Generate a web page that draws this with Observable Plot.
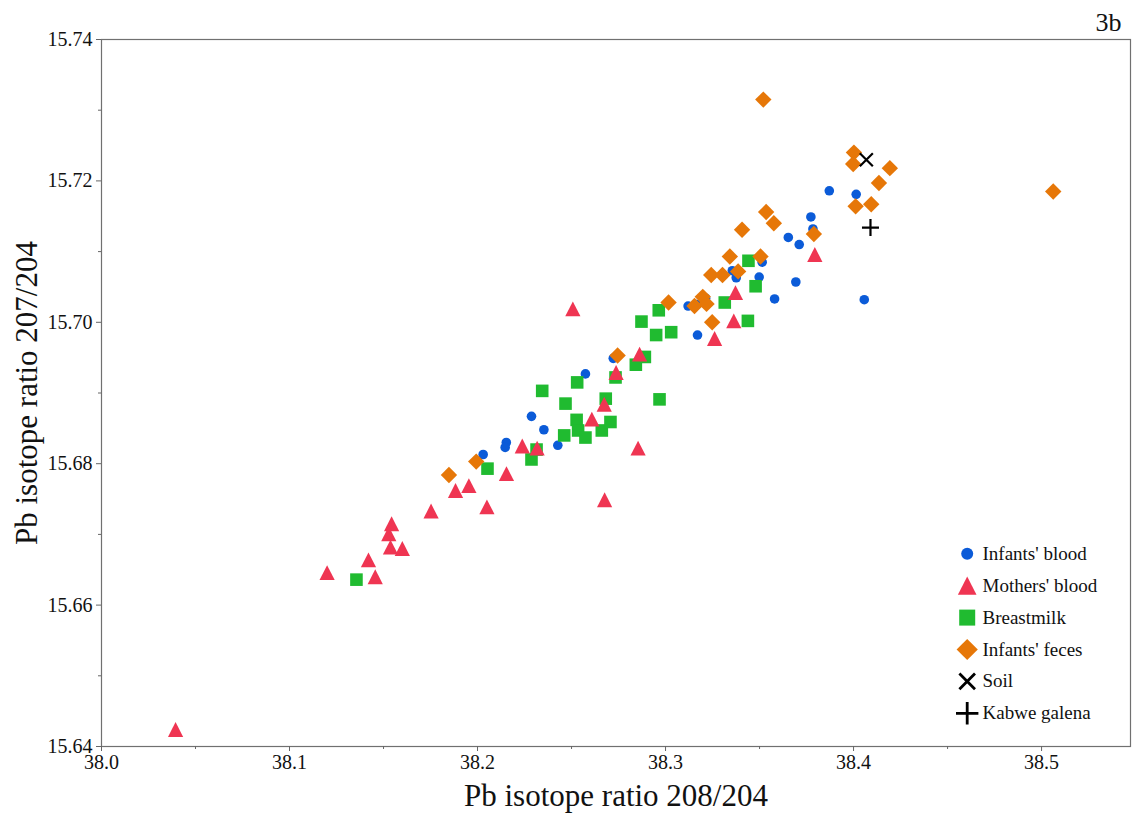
<!DOCTYPE html>
<html><head><meta charset="utf-8">
<script src="https://cdn.jsdelivr.net/npm/d3@7"></script>
<script src="https://cdn.jsdelivr.net/npm/@observablehq/plot@0.6"></script>
<style>
html,body{margin:0;padding:0;background:#fff;}
#chart{width:1134px;height:819px;}
#chart svg text{font-family:'Liberation Serif','Times New Roman',serif;}
</style>
</head><body><div id="chart"></div>
<script>
// ---- data: [Pb 208/204, Pb 207/204] ----
const infantsBlood = [
  [38.2030,15.6813],[38.2153,15.6830],[38.2147,15.6823],[38.2287,15.6867],[38.2353,15.6848],
  [38.2427,15.6826],[38.2574,15.6927],[38.2722,15.6949],[38.3120,15.7023],[38.3165,15.7025],
  [38.3213,15.7034],[38.3170,15.6982],[38.3355,15.7073],[38.3376,15.7063],[38.3514,15.7085],
  [38.3498,15.7064],[38.3580,15.7033],[38.3693,15.7057],[38.3653,15.7120],[38.3711,15.7110],
  [38.3773,15.7149],[38.3784,15.7132],[38.3871,15.7186],[38.4014,15.7181],[38.4057,15.7032]
];
const mothersBlood = [
  [38.0394,15.6424],[38.1200,15.6646],[38.1420,15.6664],[38.1456,15.6640],[38.1543,15.6715],
  [38.1528,15.6701],[38.1537,15.6682],[38.1600,15.6680],[38.1753,15.6733],[38.1883,15.6762],
  [38.1954,15.6769],[38.2050,15.6739],[38.2154,15.6786],[38.2238,15.6825],[38.2317,15.6822],
  [38.2507,15.7019],[38.2608,15.6863],[38.2674,15.6884],[38.2676,15.6749],[38.2854,15.6822],
  [38.2737,15.6929],[38.2862,15.6955],[38.3261,15.6977],[38.3363,15.7002],[38.3372,15.7042],
  [38.3794,15.7096]
];
const breastmilk = [
  [38.1356,15.6636],[38.2053,15.6793],[38.2287,15.6806],[38.2314,15.6820],[38.2344,15.6903],
  [38.2530,15.6915],[38.2468,15.6885],[38.2527,15.6862],[38.2535,15.6847],[38.2574,15.6837],
  [38.2461,15.6840],[38.2661,15.6847],[38.2707,15.6859],[38.2682,15.6892],[38.2734,15.6922],
  [38.2842,15.6940],[38.2890,15.6951],[38.2872,15.7001],[38.2950,15.6982],[38.3030,15.6986],
  [38.2964,15.7017],[38.2968,15.6891],[38.3315,15.7028],[38.3441,15.7087],[38.3479,15.7051],
  [38.3438,15.7002]
];
const infantsFeces = [
  [38.1848,15.6784],[38.1993,15.6803],[38.2745,15.6953],[38.3016,15.7028],[38.3154,15.7023],
  [38.3198,15.7036],[38.3218,15.7026],[38.3248,15.7000],[38.3243,15.7067],[38.3303,15.7067],
  [38.3342,15.7093],[38.3386,15.7072],[38.3505,15.7093],[38.3407,15.7131],[38.3535,15.7156],
  [38.3576,15.7140],[38.3789,15.7125],[38.4011,15.7164],[38.4094,15.7167],[38.3520,15.7315],
  [38.4002,15.7240],[38.3998,15.7224],[38.4193,15.7218],[38.4135,15.7197],[38.5062,15.7185]
];
const soil = [[38.4068,15.7230]];
const kabweGalena = [[38.4090,15.7134]];

const seriesNames = ["Infants' blood","Mothers' blood","Breastmilk","Infants' feces","Soil","Kabwe galena"];
const xTicks = [38.0,38.1,38.2,38.3,38.4,38.5];
const xMinorTicks = [38.05,38.15,38.25,38.35,38.45];
const yTicks = [15.64,15.66,15.68,15.70,15.72,15.74];
const yMinorTicks = [15.65,15.67,15.69,15.71,15.73];
const xLabel = "Pb isotope ratio 208/204";
const yLabel = "Pb isotope ratio 207/204";
const panelLabel = "3b";

const FONT = "'Liberation Serif', 'Times New Roman', serif";

// ---- symbols (size -> radius R) ----
const RR = s => Math.sqrt(s/Math.PI);
const symCircle = {draw(c,s){const r=RR(s); c.moveTo(r,0); c.arc(0,0,r,0,2*Math.PI); c.closePath();}};
const symTriangle = {draw(c,s){const r=RR(s); c.moveTo(0,-0.98*r); c.lineTo(r,0.98*r); c.lineTo(-r,0.98*r); c.closePath();}};
const symSquare = {draw(c,s){const r=RR(s); c.moveTo(-r,-r); c.lineTo(r,-r); c.lineTo(r,r); c.lineTo(-r,r); c.closePath();}};
const symDiamond = {draw(c,s){const r=RR(s); c.moveTo(0,-r); c.lineTo(r,0); c.lineTo(0,r); c.lineTo(-r,0); c.closePath();}};
const symTimes = {draw(c,s){const r=RR(s); c.moveTo(-r,-r); c.lineTo(r,r); c.moveTo(-r,r); c.lineTo(r,-r);}};
const symPlus = {draw(c,s){const r=RR(s); c.moveTo(-r,0); c.lineTo(r,0); c.moveTo(0,-r); c.lineTo(0,r);}};

const styles = [
  {data: infantsBlood, symbol: symCircle, fill: "#0b5bd8", r: 4.8, lr: 6},
  {data: mothersBlood, symbol: symTriangle, fill: "#ef3552", r: 7.6, lr: 9.3},
  {data: breastmilk, symbol: symSquare, fill: "#20bb30", r: 6.3, lr: 8},
  {data: infantsFeces, symbol: symDiamond, fill: "#e67708", r: 8.2, lr: 10.6},
  {data: soil, symbol: symTimes, stroke: "#000", r: 6.5, lr: 7.8, sw: 2.2, lsw: 2.8},
  {data: kabweGalena, symbol: symPlus, stroke: "#000", r: 8.5, lr: 11.2, sw: 2.2, lsw: 2.8}
];
const drawOrder = [0,2,1,3,4,5];

const marks = [];
marks.push(Plot.frame({stroke: "#707070", strokeWidth: 1.2}));
marks.push(Plot.axisX(xTicks, {tickFormat: d => d.toFixed(1), tickSize: 5, tickPadding: 3, fontSize: 20, fontFamily: FONT, fontVariant: "normal", label: null, stroke: "#666", fill: "#111"}));
marks.push(Plot.axisX(xMinorTicks, {tickFormat: () => "", tickSize: 3, label: null, stroke: "#666"}));
marks.push(Plot.axisY(yTicks, {tickFormat: d => d.toFixed(2), tickSize: 5, tickPadding: 4, fontSize: 20, fontFamily: FONT, fontVariant: "normal", label: null, stroke: "#666", fill: "#111"}));
marks.push(Plot.axisY(yMinorTicks, {tickFormat: () => "", tickSize: 3, label: null, stroke: "#666"}));

for (const i of drawOrder) {
  const s = styles[i];
  marks.push(Plot.dot(s.data, {
    x: d => d[0], y: d => d[1], symbol: s.symbol, r: s.r,
    fill: s.fill || "none", stroke: s.stroke || "none", strokeWidth: s.sw || 0
  }));
}

// legend
seriesNames.forEach((name, i) => {
  const s = styles[i];
  const dy = 514.3 + 31.9 * i;
  marks.push(Plot.dot([0], {frameAnchor: "top-left", dx: 865.7, dy, symbol: s.symbol, r: s.lr,
    fill: s.fill || "none", stroke: s.stroke || "none", strokeWidth: s.lsw || 0}));
  marks.push(Plot.text([name], {frameAnchor: "top-left", dx: 881, dy, text: d => d, textAnchor: "start",
    lineAnchor: "middle", fontSize: 19, fontFamily: FONT, fill: "#111"}));
});

// titles
marks.push(Plot.text([xLabel], {frameAnchor: "bottom", dy: 59, text: d => d, textAnchor: "middle", lineAnchor: "bottom", fontSize: 31, fontFamily: FONT, fill: "#111"}));
marks.push(Plot.text([yLabel], {frameAnchor: "left", dx: -65, text: d => d, rotate: -90, textAnchor: "middle", lineAnchor: "bottom", fontSize: 31, fontFamily: FONT, fill: "#111"}));
marks.push(Plot.text([panelLabel], {frameAnchor: "top-right", dx: -9, dy: -9, text: d => d, textAnchor: "end", lineAnchor: "bottom", fontSize: 26, fontFamily: FONT, fill: "#111"}));

const chart = Plot.plot({
  width: 1134, height: 819,
  marginLeft: 101, marginRight: 4, marginTop: 39, marginBottom: 73,
  x: {domain: [38.0, 38.5473]},
  y: {domain: [15.64, 15.74]},
  style: {fontFamily: FONT, background: "#fff", color: "#111"},
  marks
});
document.getElementById("chart").appendChild(chart);
</script>
</body></html>
